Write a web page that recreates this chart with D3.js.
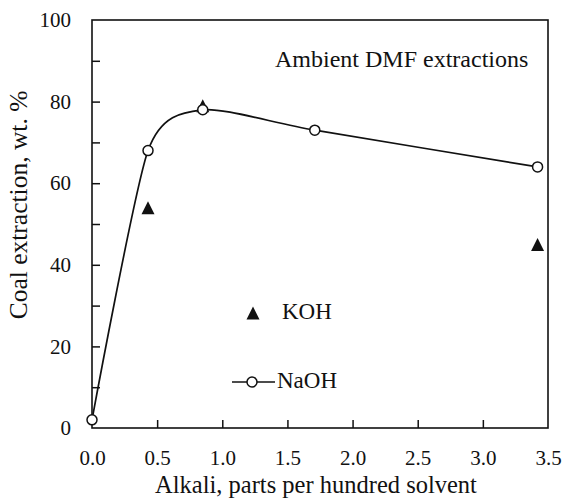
<!DOCTYPE html>
<html>
<head>
<meta charset="utf-8">
<script src="https://cdn.jsdelivr.net/npm/d3@7"></script>
<style>
  html, body { margin: 0; padding: 0; background: #fff; }
  svg { display: block; }
  text { font-family: "Liberation Serif", "Times New Roman", serif; fill: #111; }
</style>
</head>
<body>
<svg id="chart" width="562" height="504"></svg>
<script>
// Alkali loading (parts per hundred solvent) and coal extraction (wt. %)
const naohAlkali = [0.0, 0.43, 0.85, 1.71, 3.42];
const naohExtraction = [2, 68, 78, 73, 64];
const kohAlkali = [0.43, 0.85, 3.42];
const kohExtraction = [54, 79, 45];

const xTicks = [0, 0.5, 1.0, 1.5, 2.0, 2.5, 3.0, 3.5];
const yTicks = [0, 10, 20, 30, 40, 50, 60, 70, 80, 90, 100];
const yLabelled = [0, 20, 40, 60, 80, 100];

const svg = d3.select("#chart");
const W = 562, H = 504;
const m = { left: 92, right: 14, top: 20, bottom: 76 };

svg.append("rect").attr("width", W).attr("height", H).attr("fill", "#fff");

const x = d3.scaleLinear().domain([0, 3.5]).range([m.left, W - m.right]);
const y = d3.scaleLinear().domain([0, 100]).range([H - m.bottom, m.top]);

// Axes: ticks point into the plot
const xAxis = d3.axisBottom(x)
  .tickValues(xTicks)
  .tickSizeInner(-8).tickSizeOuter(0).tickPadding(22)
  .tickFormat(d3.format(".1f"));
const gx = svg.append("g").attr("transform", `translate(0,${y(0)})`).call(xAxis);

const yAxis = d3.axisLeft(y)
  .tickValues(yTicks)
  .tickSizeInner(-8).tickSizeOuter(0).tickPadding(21)
  .tickFormat(d => yLabelled.includes(d) ? d3.format("d")(d) : "");
const gy = svg.append("g").attr("transform", `translate(${x(0)},0)`).call(yAxis);

[gx, gy].forEach(g => {
  g.select(".domain").remove();
  g.selectAll(".tick line").attr("stroke", "#111").attr("stroke-width", 1.5);
  g.selectAll(".tick text")
    .style("font-family", '"Liberation Serif", "Times New Roman", serif')
    .style("font-size", "21px").attr("fill", "#111");
});
// no tick marks on the frame edges themselves
gx.selectAll(".tick").filter(d => d === 0 || d === 3.5).select("line").remove();
gy.selectAll(".tick").filter(d => d === 0 || d === 100).select("line").remove();

// Plot frame
svg.append("rect")
  .attr("x", x(0)).attr("y", y(100))
  .attr("width", x(3.5) - x(0)).attr("height", y(0) - y(100))
  .attr("fill", "none").attr("stroke", "#111").attr("stroke-width", 1.6);

// Axis titles
svg.append("text")
  .attr("x", 316).attr("y", 493)
  .attr("text-anchor", "middle")
  .style("font-size", "24.5px")
  .text("Alkali, parts per hundred solvent");

svg.append("text")
  .attr("transform", "translate(27,205) rotate(-90)")
  .attr("text-anchor", "middle")
  .style("font-size", "25.5px")
  .text("Coal extraction, wt. %");

svg.append("text")
  .attr("x", 275).attr("y", 67)
  .style("font-size", "24px")
  .text("Ambient DMF extractions");

// Triangle marker, centred on its bounding box
const tri = (cx, cy, w = 13, h = 13) =>
  `M${cx},${cy - h / 2}L${cx + w / 2},${cy + h / 2}L${cx - w / 2},${cy + h / 2}Z`;

// KOH points
svg.append("g").selectAll("path")
  .data(kohAlkali.map((a, i) => [a, kohExtraction[i]]))
  .join("path")
  .attr("d", d => tri(x(d[0]), y(d[1])))
  .attr("fill", "#111");

// NaOH smoothed curve and open circles
const naoh = naohAlkali.map((a, i) => [a, naohExtraction[i]]);
const line = d3.line()
  .x(d => x(d[0])).y(d => y(d[1]))
  .curve(d3.curveCardinal.tension(0.3));
svg.append("path")
  .datum(naoh)
  .attr("d", line)
  .attr("fill", "none").attr("stroke", "#111").attr("stroke-width", 1.7);

svg.append("g").selectAll("circle")
  .data(naoh)
  .join("circle")
  .attr("cx", d => x(d[0])).attr("cy", d => y(d[1]))
  .attr("r", 5)
  .attr("fill", "#fff").attr("stroke", "#111").attr("stroke-width", 1.5);

// Legend
const lg = svg.append("g");
lg.append("path").attr("d", tri(253, 313)).attr("fill", "#111");
lg.append("text").attr("x", 282).attr("y", 319).style("font-size", "23px").text("KOH");
lg.append("line").attr("x1", 232).attr("x2", 275).attr("y1", 382).attr("y2", 382)
  .attr("stroke", "#111").attr("stroke-width", 1.5);
lg.append("circle").attr("cx", 252).attr("cy", 382).attr("r", 5)
  .attr("fill", "#fff").attr("stroke", "#111").attr("stroke-width", 1.5);
lg.append("text").attr("x", 277).attr("y", 388).style("font-size", "23px").text("NaOH");
</script>
</body>
</html>
